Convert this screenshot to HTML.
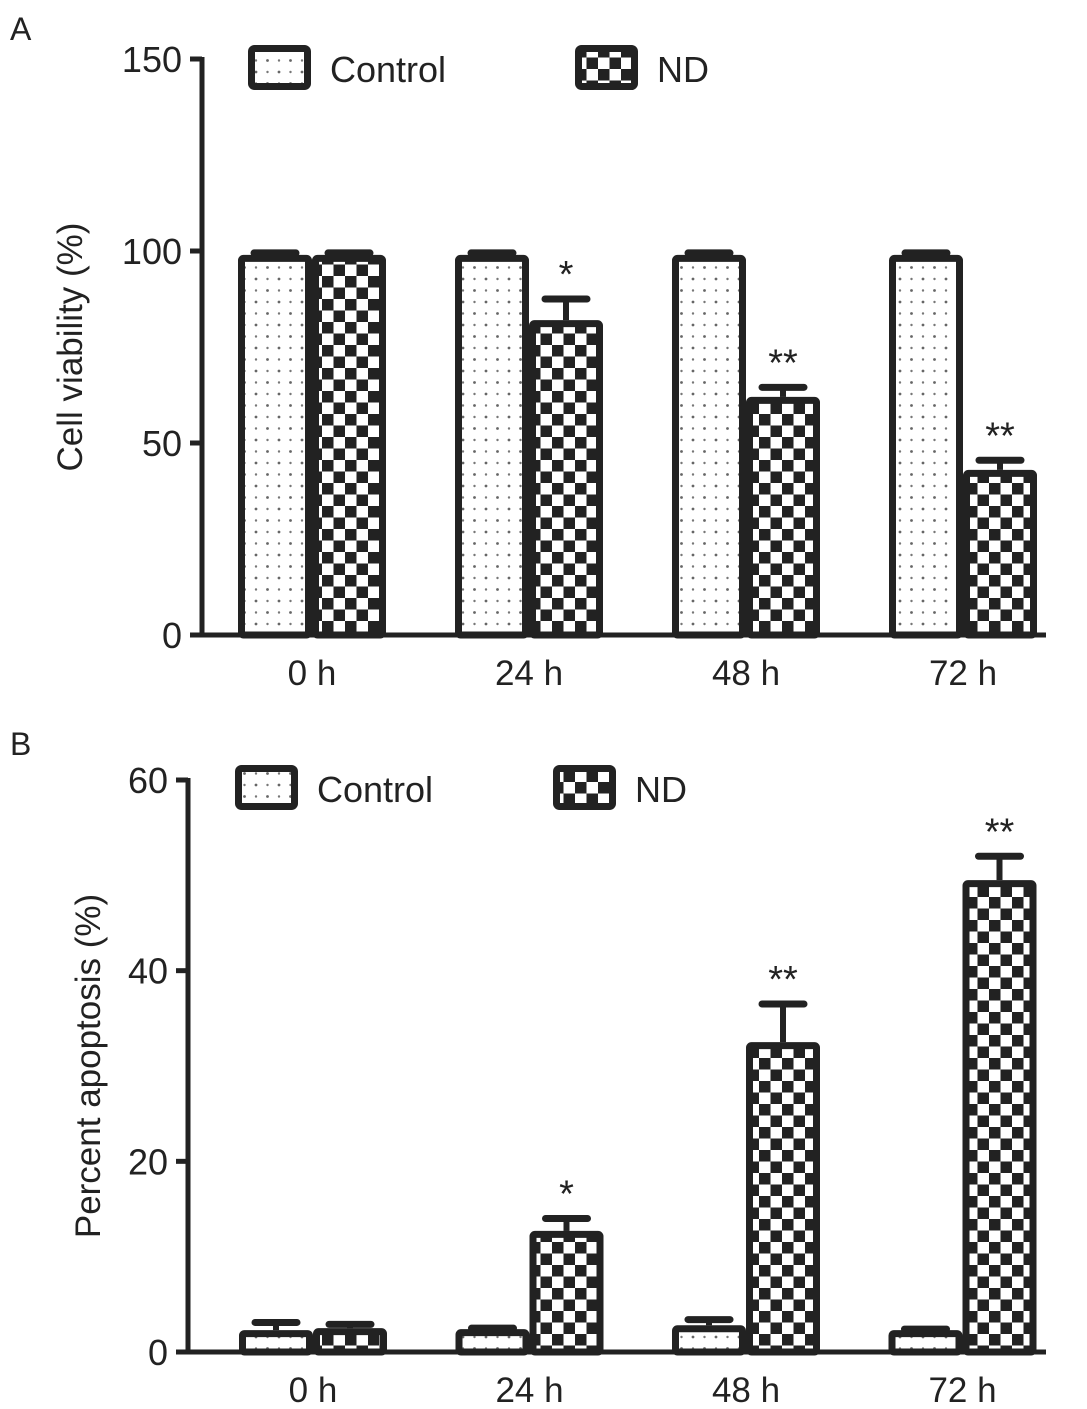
<!DOCTYPE html>
<html><head><meta charset="utf-8"><style>
html,body{margin:0;padding:0;background:#fff}
svg{display:block}
text{font-family:"Liberation Sans",sans-serif;fill:#222}
</style></head><body>
<svg id="fig" width="1087" height="1409" viewBox="0 0 1087 1409">
<defs>
<pattern id="dots" width="23" height="23" patternUnits="userSpaceOnUse">
<rect width="23" height="23" fill="#fff"/>
<circle cx="3" cy="3" r="1.4" fill="#666"/><circle cx="14.5" cy="14.5" r="1.4" fill="#666"/>
<circle cx="14.5" cy="3" r="1.2" fill="#777"/><circle cx="3" cy="14.5" r="1.2" fill="#777"/>
</pattern>
<pattern id="check" width="23" height="23" patternUnits="userSpaceOnUse">
<rect width="23" height="23" fill="#fff"/>
<rect x="0" y="0" width="11.5" height="11.5" fill="#222"/><rect x="11.5" y="11.5" width="11.5" height="11.5" fill="#222"/>
</pattern>
</defs>
<g id="panelA"></g>
<g id="panelB"></g>
</svg>
<script>
const categories = ["0 h","24 h","48 h","72 h"];
const seriesNames = ["Control","ND"];
const aControl = [99,99,99,99];
const aControlErr = [99.5,99.5,99.5,99.5];
const aND = [99,82,62,43];
const aNDErr = [99.5,87.5,64.5,45.5];
const aStars = ["","*","**","**"];
const aTicks = [0,50,100,150];
const bControl = [2.3,2.4,2.8,2.3];
const bControlErr = [3.1,2.5,3.4,2.4];
const bND = [2.5,12.7,32.5,49.5];
const bNDErr = [2.9,14,36.5,52];
const bStars = ["","*","**","**"];
const bTicks = [0,20,40,60];

const NS="http://www.w3.org/2000/svg";
function mk(parent,tag,attrs,txt){const e=document.createElementNS(NS,tag);for(const k in attrs)e.setAttribute(k,attrs[k]);if(txt!==undefined)e.textContent=txt;parent.appendChild(e);return e;}

function panel(g,o){
  const y=v=>o.y0-(v-o.ymin)/(o.ymax-o.ymin)*(o.y0-o.y1);
  const groupX=i=>o.gx0+i*o.gstep;
  const bw=74;
  const L=mk(g,"text",{x:10,y:o.letterY,"font-size":32},o.letter);
  
  
  const T=mk(g,"text",{x:0,y:0,"font-size":35,"text-anchor":"middle",transform:`translate(${o.titleX},${(o.y0+o.y1)/2}) rotate(-90)`},o.title);
  
  
  [[o.ctrl,o.ctrlErr,"url(#dots)",0],[o.nd,o.ndErr,"url(#check)",1]].forEach(([vals,errs,fill,s])=>{
    vals.forEach((v,i)=>{
      const x=groupX(i)+s*bw;
      const e=mk(g,"line",{x1:x+bw/2,x2:x+bw/2,y1:y(v),y2:y(errs[i]),stroke:"#222","stroke-width":6});
      
      
      const c=mk(g,"line",{x1:x+bw/2-21,x2:x+bw/2+21,y1:y(errs[i]),y2:y(errs[i]),stroke:"#222","stroke-width":7,"stroke-linecap":"round"});
      
      
      const r=mk(g,"rect",{x:x+3.5,y:y(v)+3.5,width:bw-7,height:Math.max(0,y(o.ymin)-y(v)-3.5),fill:fill,stroke:"#222","stroke-width":7,rx:2});
      
      
    });
  });
  o.stars.forEach((st,i)=>{
    if(!st)return;
    const s=mk(g,"text",{x:groupX(i)+bw*1.5,y:y(o.ndErr[i])-o.starGap,"font-size":38,"text-anchor":"middle"},st);
    
    
  });
  const ya=mk(g,"line",{x1:o.ax,x2:o.ax,y1:o.y1-2,y2:o.y0+2,stroke:"#222","stroke-width":5});
  
  
  const xa=mk(g,"line",{x1:o.ax-2,x2:1046,y1:o.y0,y2:o.y0,stroke:"#222","stroke-width":5});
  
  
  o.ticks.forEach(t=>{
    const tl=mk(g,"line",{x1:o.ax-12,x2:o.ax,y1:y(t),y2:y(t),stroke:"#222","stroke-width":5});
    
    
    const tt=mk(g,"text",{x:o.ax-20,y:y(t)+13,"font-size":36,"text-anchor":"end"},t);
    
    
  });
  categories.forEach((c,i)=>{
    const t=mk(g,"text",{x:groupX(i)+bw,y:o.y0+50,"font-size":35,"text-anchor":"middle"},c);
    
    
  });
  [[o.leg1,"url(#dots)",seriesNames[0]],[o.leg2,"url(#check)",seriesNames[1]]].forEach(([p,fill,name])=>{
    const r=mk(g,"rect",{x:p[0]+3.5,y:p[1]+3.5,width:56,height:38,fill:fill,stroke:"#222","stroke-width":7,rx:3});
    
    
    const t=mk(g,"text",{x:p[0]+82,y:p[1]+37,"font-size":36},name);
    
    
  });
}
panel(document.getElementById('panelA'),{letter:"A",letterY:40,title:"Cell viability (%)",titleX:82,
  ymin:0,ymax:150,y0:635,y1:59,ax:202,gx0:238,gstep:217,ctrl:aControl,ctrlErr:aControlErr,nd:aND,ndErr:aNDErr,
  stars:aStars,ticks:aTicks,starGap:12,leg1:[248,45],leg2:[575,45]});
panel(document.getElementById('panelB'),{letter:"B",letterY:755,title:"Percent apoptosis (%)",titleX:100,
  ymin:0,ymax:60,y0:1352,y1:780,ax:188,gx0:239,gstep:216.5,ctrl:bControl,ctrlErr:bControlErr,nd:bND,ndErr:bNDErr,
  stars:bStars,ticks:bTicks,starGap:12,leg1:[235,765],leg2:[553,765]});
</script>
</body></html>
